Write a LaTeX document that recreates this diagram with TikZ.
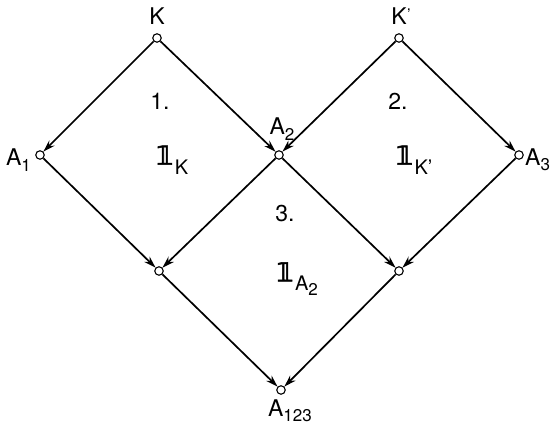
\documentclass[tikz,border=0pt]{standalone}
\usepackage{fontspec}
\setmainfont{TeX Gyre Heros}
\newfontfamily\dvs[FakeBold=2]{DejaVu Sans}
\usetikzlibrary{arrows.meta}
\tikzset{
  pt/.style={circle,draw,line width=1.1pt,inner sep=0pt,minimum size=8.5pt,fill=white},
  lbl/.style={font=\fontsize{23}{26}\selectfont,inner sep=0pt},
  arr/.style={line width=1.7pt,-{Stealth[length=12pt,width=7.5pt]}}
}
\newcommand{\sub}[1]{\raisebox{-0.45ex}{\fontsize{17}{20}\selectfont #1}}
\newcommand{\bsub}[1]{\raisebox{-0.8ex}{\fontsize{20}{22}\selectfont #1}}
\newcommand{\unitone}{{\dvs\bfseries\fontsize{26}{28}\selectfont 𝟙}}
\begin{document}
\begin{tikzpicture}[x=1pt,y=-1pt]
\useasboundingbox (0,0) rectangle (555,427);
\node[pt] (K) at (157,38) {};
\node[pt] (Kp) at (399,38) {};
\node[pt] (A1) at (40,155) {};
\node[pt] (A2) at (279,155) {};
\node[pt] (A3) at (519,155) {};
\node[pt] (L) at (159,271) {};
\node[pt] (R) at (399,271) {};
\node[pt] (A123) at (281,390) {};
\node[lbl] (tK) at (157,16) {K};
\node[lbl] (tKp) at (401,16) {K\kern0.5pt\raisebox{0.35ex}{\fontsize{16}{18}\selectfont '}};
\node[lbl,anchor=east] (tA1) at (31,160) {A\sub{1}};
\node[lbl] (tA2) at (282,129) {A\sub{2}};
\node[lbl,anchor=west] (tA3) at (525,160) {A\sub{3}};
\node[lbl] (tA123) at (290,411) {A\sub{123}};
\node[lbl] (n1) at (160,101) {1.};
\node[lbl] (n2) at (398,101) {2.};
\node[lbl] (n3) at (285,214) {3.};
\node[lbl] (iK) at (172,160) {\unitone\kern1pt\bsub{K}};
\node[lbl] (iKp) at (414,160) {\unitone\kern1pt\bsub{K'}};
\node[lbl] (iA) at (297,279) {\unitone\kern1pt\bsub{A\sub{2}}};
\draw[arr] (K) -- (A1);
\draw[arr] (K) -- (A2);
\draw[arr] (Kp) -- (A2);
\draw[arr] (Kp) -- (A3);
\draw[arr] (A1) -- (L);
\draw[arr] (A2) -- (L);
\draw[arr] (A2) -- (R);
\draw[arr] (A3) -- (R);
\draw[arr] (L) -- (A123);
\draw[arr] (R) -- (A123);
\end{tikzpicture}
\end{document}
